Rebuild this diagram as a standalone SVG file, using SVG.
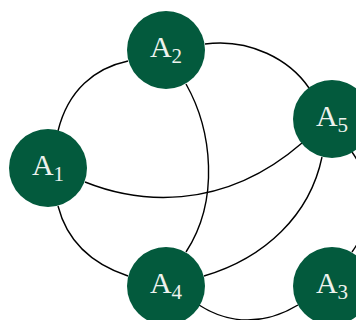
<svg xmlns="http://www.w3.org/2000/svg" width="356" height="320" viewBox="0 0 356 320">
<style>
.edge{fill:none;stroke:#000;stroke-width:1.4}
.node circle{fill:#035a3d}
.node text{font-family:"Liberation Serif","DejaVu Serif",serif;font-size:30px;fill:#eef2ee;text-anchor:middle}
.sub{font-size:21px}
</style>
<rect width="356" height="320" fill="#fff"/>
<g id="connectors">
<path class="edge" d="M58,131 C68,90 95,68 128,61"/>
<path class="edge" d="M205,44 C250,38 290,60 309,88"/>
<path class="edge" d="M186,84 C212,130 220,200 186,252"/>
<path class="edge" d="M85,182 C135,202 220,214 302,143"/>
<path class="edge" d="M58,206 C68,245 95,265 128,276"/>
<path class="edge" d="M204,276 C265,258 310,215 322,157"/>
<path class="edge" d="M199,305 C230,325 265,325 298,305"/>
<path class="edge" d="M352,152 C375,185 375,220 352,252"/>
</g>
<g id="A1" class="node"><circle cx="48" cy="168" r="39"/><text x="48" y="175">A<tspan class="sub" dy="6">1</tspan></text></g>
<g id="A2" class="node"><circle cx="166" cy="50" r="39"/><text x="166" y="57">A<tspan class="sub" dy="6">2</tspan></text></g>
<g id="A3" class="node"><circle cx="332" cy="286" r="39"/><text x="332" y="293">A<tspan class="sub" dy="6">3</tspan></text></g>
<g id="A4" class="node"><circle cx="166" cy="286" r="39"/><text x="166" y="293">A<tspan class="sub" dy="6">4</tspan></text></g>
<g id="A5" class="node"><circle cx="332" cy="119" r="39"/><text x="332" y="126">A<tspan class="sub" dy="6">5</tspan></text></g>
</svg>
